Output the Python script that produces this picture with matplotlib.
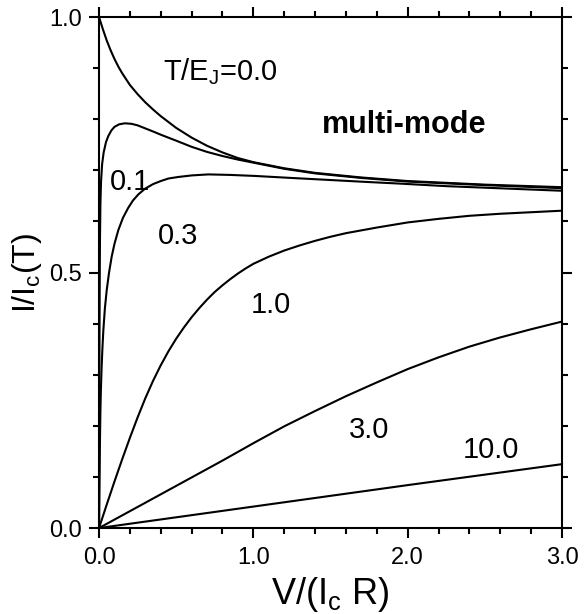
import matplotlib
matplotlib.use("Agg")
import matplotlib.pyplot as plt
from matplotlib.ticker import MultipleLocator, FormatStrFormatter

plt.rcParams['font.family'] = ['Liberation Sans', 'DejaVu Sans']
plt.rcParams['mathtext.fontset'] = 'custom'
plt.rcParams['mathtext.rm'] = 'Liberation Sans'
plt.rcParams['mathtext.it'] = 'Liberation Sans'

# curves, one per T/E_J value
v_00 = [0.0, 0.025, 0.05, 0.075, 0.1, 0.125, 0.15, 0.2, 0.25, 0.3, 0.35, 0.4, 0.5, 0.6, 0.7,
        0.8, 0.9, 1.0, 1.2, 1.4, 1.7, 2.0, 2.5, 3.0]
i_00 = [1.0, 0.976, 0.954, 0.935, 0.918, 0.903, 0.890, 0.867, 0.849, 0.833, 0.819, 0.806, 0.783,
        0.764, 0.748, 0.735, 0.724, 0.716, 0.704, 0.695, 0.686, 0.679, 0.672, 0.667]

v_01 = [0.0, 0.002, 0.004, 0.006, 0.009, 0.013, 0.02, 0.03, 0.045, 0.06, 0.08, 0.1, 0.13, 0.168,
        0.21, 0.25, 0.3, 0.35, 0.406, 0.5, 0.6, 0.7, 0.8, 0.9, 1.0, 1.2, 1.4, 1.7, 2.0, 2.5, 3.0]
i_01 = [0.0, 0.30, 0.46, 0.56, 0.635, 0.678, 0.712, 0.735, 0.755, 0.767, 0.778, 0.785, 0.790, 0.792,
        0.791, 0.788, 0.782, 0.776, 0.769, 0.758, 0.746, 0.736, 0.728, 0.721, 0.715, 0.703, 0.694,
        0.685, 0.678, 0.671, 0.665]

v_03 = [0.0, 0.003, 0.006, 0.009, 0.012, 0.017, 0.022, 0.028, 0.038, 0.05, 0.065, 0.082, 0.1, 0.125,
        0.155, 0.19, 0.22, 0.255, 0.298, 0.35, 0.4, 0.45, 0.514, 0.6, 0.708, 0.85, 1.01, 1.25, 1.5,
        1.75, 1.95, 2.25, 2.5, 2.75, 3.0]
i_03 = [0.0, 0.09, 0.17, 0.23, 0.27, 0.316, 0.352, 0.387, 0.430, 0.466, 0.500, 0.531, 0.556, 0.583,
        0.607, 0.627, 0.641, 0.653, 0.664, 0.673, 0.679, 0.684, 0.687, 0.690, 0.692, 0.691, 0.689,
        0.685, 0.681, 0.677, 0.674, 0.669, 0.666, 0.663, 0.660]

v_10 = [0.0, 0.05, 0.1, 0.15, 0.2, 0.25, 0.3, 0.35, 0.4, 0.45, 0.5, 0.55, 0.6, 0.65, 0.7, 0.75,
        0.8, 0.85, 0.9, 0.95, 1.0, 1.1, 1.2, 1.3, 1.4, 1.5, 1.6, 1.8, 2.0, 2.2, 2.4, 2.6, 2.8, 3.0]
i_10 = [0.0, 0.046, 0.091, 0.1345, 0.1765, 0.2165, 0.254, 0.288, 0.3185, 0.346, 0.3705, 0.3925,
        0.4125, 0.4305, 0.447, 0.462, 0.475, 0.487, 0.498, 0.508, 0.517, 0.531, 0.543, 0.553, 0.562,
        0.570, 0.577, 0.588, 0.598, 0.605, 0.611, 0.615, 0.618, 0.621]

v_30 = [0.0, 0.2, 0.4, 0.6, 0.8, 1.0, 1.2, 1.4, 1.6, 1.8, 2.0, 2.2, 2.4, 2.6, 2.8, 3.0]
i_30 = [0.0, 0.033, 0.066, 0.099, 0.132, 0.166, 0.199, 0.229, 0.258, 0.285, 0.311, 0.334, 0.355,
        0.373, 0.389, 0.404]

v_100 = [0.0, 1.0, 2.0, 3.0]
i_100 = [0.0, 0.042, 0.084, 0.125]

curves = [(v_00, i_00), (v_01, i_01), (v_03, i_03), (v_10, i_10), (v_30, i_30), (v_100, i_100)]

# label text and where it sits (data coords, left/baseline)
labels = [(r'T/E$_\mathrm{J}$=0.0', 0.417, 0.877),
          ('0.1', 0.071, 0.661),
          ('0.3', 0.380, 0.556),
          ('1.0', 0.985, 0.420),
          ('3.0', 1.62, 0.177),
          ('10.0', 2.357, 0.138)]

fig = plt.figure(figsize=(5.87, 6.14), dpi=100)
ax = fig.add_axes([0.1687, 0.140, 0.7887, 0.8323])

for xs, ys in curves:
    ax.plot(xs, ys, 'k-', lw=1.5, solid_joinstyle='round')

for txt, x, y in labels:
    ax.text(x, y, txt, fontsize=21, ha='left', va='baseline')
ax.text(1.443, 0.774, 'multi-mode', fontsize=22, fontweight='bold', ha='left', va='baseline')

ax.set_xlim(0, 3)
ax.set_ylim(0, 1)
ax.xaxis.set_major_locator(MultipleLocator(1.0))
ax.xaxis.set_minor_locator(MultipleLocator(0.2))
ax.yaxis.set_major_locator(MultipleLocator(0.5))
ax.yaxis.set_minor_locator(MultipleLocator(0.1))
ax.xaxis.set_major_formatter(FormatStrFormatter('%.1f'))
ax.yaxis.set_major_formatter(FormatStrFormatter('%.1f'))
ax.tick_params(which='both', direction='out', top=True, right=True, width=1.5)
ax.tick_params(which='major', length=7, labelsize=17)
ax.tick_params(which='minor', length=4)
ax.tick_params(axis='x', pad=7)
ax.tick_params(axis='y', pad=5)
for s in ax.spines.values():
    s.set_linewidth(1.5)

ax.set_xlabel(r'V/(I$_\mathrm{c}$ R)', fontsize=26, labelpad=4)
ax.set_ylabel(r'I/I$_\mathrm{c}$(T)', fontsize=23, labelpad=4)

fig.savefig('out.png', dpi=100)
